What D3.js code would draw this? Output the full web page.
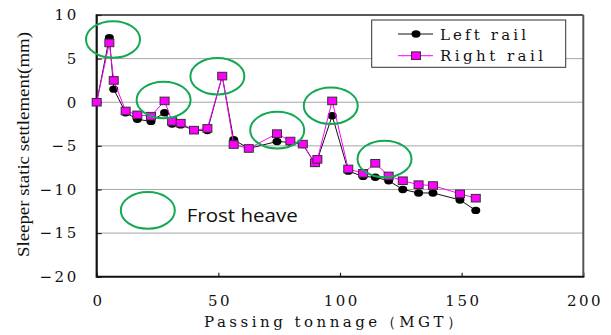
<!DOCTYPE html>
<html>
<head>
<meta charset="utf-8">
<script src="https://cdn.jsdelivr.net/npm/d3@7/dist/d3.min.js"></script>
<style>
html,body{margin:0;padding:0;background:#fff;}
svg{display:block;}
</style>
</head>
<body>
<svg id="chart" width="611" height="335"></svg>
<script>
// ---- data ----
const tonnage = [0, 5.2, 7.0, 11.9, 16.7, 22.3, 27.9, 31.0, 34.5, 40.0, 45.5, 51.6, 56.3, 62.5, 74.1, 79.6, 84.7, 89.7, 90.7, 96.8, 103.4, 109.5, 114.5, 120.0, 125.8, 132.3, 138.2, 149.3, 155.8];
const leftRail = [0, 7.4, 1.5, -1.2, -1.95, -2.2, -1.2, -2.5, -2.6, -3.2, -3.25, 3.0, -4.3, -5.3, -4.5, -4.6, -4.85, -7.0, -6.6, -1.55, -7.9, -8.5, -8.6, -9.0, -10.0, -10.4, -10.4, -11.2, -12.4];
const rightRail = [0, 6.8, 2.5, -1.0, -1.45, -1.6, 0.15, -2.2, -2.4, -3.2, -3.0, 3.0, -4.85, -5.3, -3.6, -4.45, -4.8, -6.95, -6.55, 0.15, -7.65, -8.15, -7.0, -8.45, -9.0, -9.45, -9.55, -10.5, -11.0];
const seriesNames = ["Left rail", "Right rail"];
const xTicks = [0, 50, 100, 150, 200];
const yTicks = [10, 5, 0, -5, -10, -15, -20];
const gridValues = [5, 0, -5, -10, -15];
// frost heave annotation centres (data units)
const frostX = [6.7, 27.5, 49.6, 74.2, 96.2, 118.3];
const frostY = [7.2, 0.26, 2.98, -3.2, -0.4, -6.5];
const frostLegendPos = [21, -12.4];
const frostLabel = "Frost heave";
const xTitle = "Passing tonnage（MGT）";
const yTitle = "Sleeper static settlement(mm)";

// ---- layout ----
const svg = d3.select("#chart");
const L = 96.7, R = 583.3, T = 15, B = 276.7;
const x = d3.scaleLinear().domain([0, 200]).range([L, R]);
const y = d3.scaleLinear().domain([-20, 10]).range([B, T]);
const SERIF = '"DejaVu Serif"';
const TIMES = '"Liberation Serif"';

// gridlines
svg.append("g").selectAll("line").data(gridValues).join("line")
  .attr("x1", L).attr("x2", R)
  .attr("y1", d => y(d)).attr("y2", d => y(d))
  .attr("stroke", "#a6a6a6").attr("stroke-width", 1);

// axes
const xAxis = svg.append("g").attr("transform", `translate(0,${B})`)
  .call(d3.axisBottom(x).tickValues(xTicks).tickSizeInner(-4).tickSizeOuter(0).tickPadding(19));
const yAxis = svg.append("g").attr("transform", `translate(${L},0)`)
  .call(d3.axisLeft(y).tickValues(yTicks).tickSizeInner(-5).tickSizeOuter(0).tickPadding(18));
[xAxis, yAxis].forEach(a => {
  a.attr("font-family", null).attr("font-size", null);
  a.select(".domain").remove();
  a.selectAll(".tick line").attr("stroke", "#222").attr("stroke-width", 1.2);
  a.selectAll(".tick text").style("font-family", SERIF).style("font-size", "15px")
    .style("letter-spacing", "2.5px").attr("fill", "#111");
});
xAxis.selectAll(".tick text").attr("dx", "1.25px");

// frame
svg.append("line").attr("x1", L).attr("x2", R).attr("y1", T).attr("y2", T).attr("stroke", "#222").attr("stroke-width", 1.5);
svg.append("line").attr("x1", R).attr("x2", R).attr("y1", T).attr("y2", B).attr("stroke", "#555").attr("stroke-width", 2);
svg.append("line").attr("x1", L).attr("x2", R + 1).attr("y1", B).attr("y2", B).attr("stroke", "#111").attr("stroke-width", 2);
svg.append("line").attr("x1", L).attr("x2", L).attr("y1", T - 0.75).attr("y2", B + 1).attr("stroke", "#111").attr("stroke-width", 2.2);

// series
const line = d3.line().x(d => x(d[0])).y(d => y(d[1]));
const leftData = tonnage.map((t, i) => [t, leftRail[i]]);
const rightData = tonnage.map((t, i) => [t, rightRail[i]]);

svg.append("path").datum(leftData).attr("d", line).attr("fill", "none").attr("stroke", "#111").attr("stroke-width", 1);
svg.append("g").selectAll("ellipse").data(leftData).join("ellipse")
  .attr("cx", d => x(d[0])).attr("cy", d => y(d[1])).attr("rx", 4.5).attr("ry", 3.7)
  .attr("fill", "#000");

svg.append("path").datum(rightData).attr("d", line).attr("fill", "none").attr("stroke", "#ff00ff").attr("stroke-width", 1);
svg.append("g").selectAll("rect").data(rightData).join("rect")
  .attr("x", d => x(d[0]) - 4.5).attr("y", d => y(d[1]) - 3.8).attr("width", 9).attr("height", 7.6)
  .attr("fill", "#ff00ff").attr("stroke", "#333").attr("stroke-width", 1);

// frost heave ellipses
const green = "#13a852";
svg.append("g").selectAll("ellipse").data(frostX.map((fx, i) => [fx, frostY[i]])).join("ellipse")
  .attr("cx", d => x(d[0])).attr("cy", d => y(d[1])).attr("rx", 27).attr("ry", 18.3)
  .attr("fill", "none").attr("stroke", green).attr("stroke-width", 2);
svg.append("ellipse").attr("cx", x(frostLegendPos[0])).attr("cy", y(frostLegendPos[1]))
  .attr("rx", 27).attr("ry", 18.3).attr("fill", "none").attr("stroke", green).attr("stroke-width", 2);
svg.append("text").attr("x", x(frostLegendPos[0]) + 39).attr("y", y(frostLegendPos[1]) + 12)
  .style("font-family", '"Open Sans"').style("font-size", "19px").attr("fill", "#111")
  .attr("textLength", 111).attr("lengthAdjust", "spacingAndGlyphs")
  .text(frostLabel);

// legend
const lg = svg.append("g");
lg.append("rect").attr("x", 371.7).attr("y", 20).attr("width", 194).attr("height", 47.3)
  .attr("fill", "#fff").attr("stroke", "#333").attr("stroke-width", 1);
const legY = [34, 55.7];
seriesNames.forEach((name, i) => {
  const col = i === 0 ? "#111" : "#ff00ff";
  lg.append("line").attr("x1", 398).attr("x2", 433).attr("y1", legY[i]).attr("y2", legY[i])
    .attr("stroke", col).attr("stroke-width", 1);
  if (i === 0) {
    lg.append("ellipse").attr("cx", 416).attr("cy", legY[i]).attr("rx", 4.5).attr("ry", 3.7).attr("fill", "#000");
  } else {
    lg.append("rect").attr("x", 411.5).attr("y", legY[i] - 3.8).attr("width", 9).attr("height", 7.6)
      .attr("fill", "#ff00ff").attr("stroke", "#333").attr("stroke-width", 1);
  }
  lg.append("text").attr("x", 440).attr("y", legY[i] + 5.5)
    .style("font-family", SERIF).style("font-size", "15px").attr("fill", "#111")
    .attr("textLength", i === 0 ? 86 : 103).attr("lengthAdjust", "spacing")
    .text(name);
});

// axis titles
svg.append("text").attr("x", 333).attr("y", 327).attr("text-anchor", "middle")
  .style("font-family", SERIF).style("font-size", "15px").attr("fill", "#111")
  .attr("textLength", 258).attr("lengthAdjust", "spacing")
  .text(xTitle);
svg.append("text").attr("transform", "translate(29,144.5) rotate(-90)").attr("text-anchor", "middle")
  .style("font-family", TIMES).style("font-size", "17px").attr("fill", "#111")
  .attr("textLength", 225).attr("lengthAdjust", "spacingAndGlyphs")
  .text(yTitle);
</script>
</body>
</html>
